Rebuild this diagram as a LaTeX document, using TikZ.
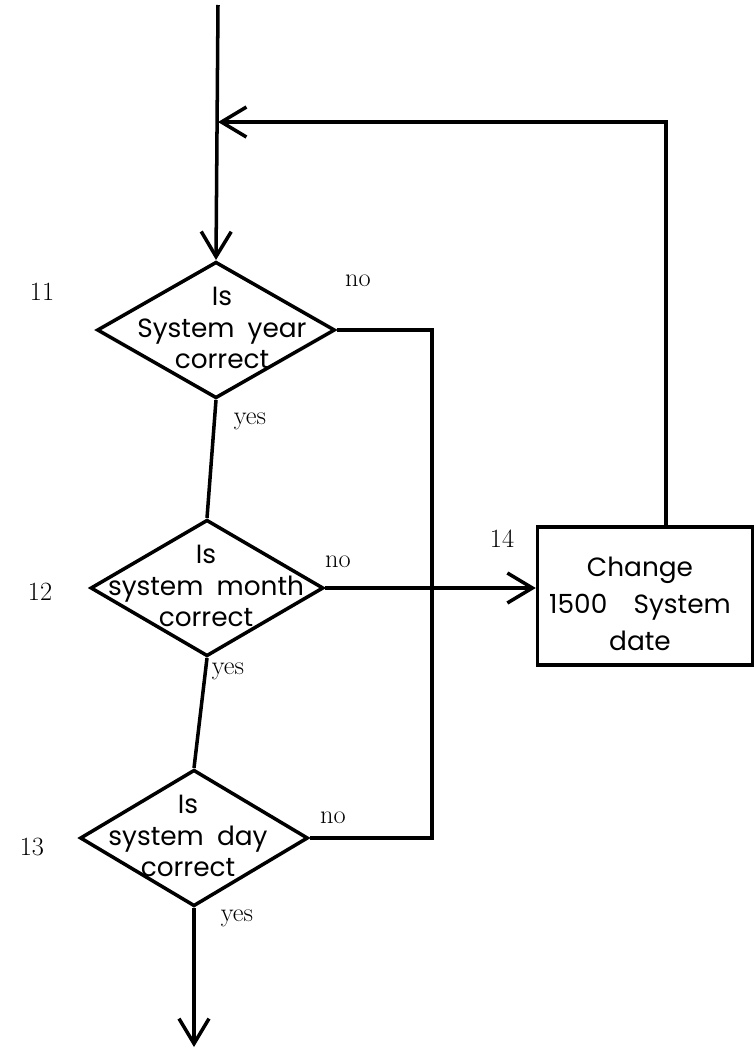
\documentclass[tikz,border=0pt]{standalone}
\usepackage{fontspec}
\newfontfamily\handfont{Poppins}
\usetikzlibrary{arrows.meta,shapes.geometric}
\tikzset{
  decision/.style={diamond, draw=black, line width=2pt, minimum height=2.73cm, inner sep=0pt},
  process/.style={rectangle, draw=black, line width=2pt, minimum width=4.3cm, minimum height=2.76cm, inner sep=0pt},
  handtext/.style={font=\handfont\fontsize{15}{18}\selectfont, align=center, inner sep=0pt},
  steplabel/.style={font=\fontsize{15}{17}\selectfont, inner sep=0pt},
  answer/.style={font=\fontsize{15}{17}\selectfont, inner sep=0pt},
  line/.style={line width=2pt},
  arrow/.style={line width=2pt, -{Straight Barb[length=5mm, width=6mm]}}
}
\begin{document}
\begin{tikzpicture}[x={(0.02cm,0)}, y={(0,-0.02cm)}]
  \useasboundingbox (0,0) rectangle (755,1055);
  \node[decision, minimum width=4.76cm] (d1) at (216,330) {};
  \node[decision, minimum width=4.66cm] (d2) at (207,588) {};
  \node[decision, minimum width=4.56cm] (d3) at (194,838) {};
  \node[process] (chg) at (645,596) {};
  \node[handtext] (t1) at (222,328) {Is\\System\enspace year\\correct};
  \node[handtext] (t2) at (206,586) {Is\\system\enspace month\\correct};
  \node[handtext] (t3) at (188,836) {Is\\system\enspace day\\correct};
  \node[handtext, font=\handfont\fontsize{15}{21}\selectfont] (t4) at (640,604) {Change\\1500\quad System\\date};
  \node[steplabel] (n11) at (42,292) {11};
  \node[steplabel] (n12) at (40,592) {12};
  \node[steplabel] (n13) at (32,847) {13};
  \node[steplabel] (n14) at (502,539) {14};
  \node[answer] (no1) at (358,281) {no};
  \node[answer] (yes1) at (250,421) {yes};
  \node[answer] (no2) at (338,562) {no};
  \node[answer] (yes2) at (228,671) {yes};
  \node[answer] (no3) at (333,818) {no};
  \node[answer] (yes3) at (237,918) {yes};
  \coordinate (start) at (218,5);
  \coordinate (join) at (218,122);
  \coordinate (loop) at (432,590);
  \coordinate (end) at (194,1047);
  \draw[arrow] (start) -- (d1.north);
  \draw[line] (d1.south) -- (d2.north);
  \draw[line] (d2.south) -- (d3.north);
  \draw[arrow] (d3.south) -- (end);
  \draw[line] (d1.east) -| (loop) |- (d3.east);
  \draw[arrow] (d2.east) -- (d2.east -| chg.west);
  \draw[arrow] ([xshift=0.42cm]chg.north) |- (join);
\end{tikzpicture}
\end{document}
